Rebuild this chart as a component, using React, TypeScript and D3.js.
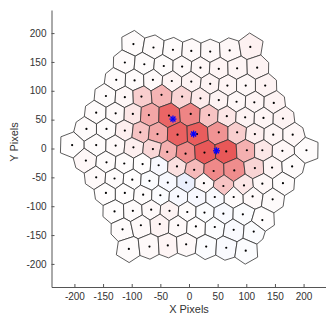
import React, { useRef, useEffect } from "react";
import * as d3 from "d3";

// site centres, one array per hex row (top to bottom)
const rowX = [
  [-97, -62, -28, 4, 37, 71, 107],
  [-112, -78, -44, -12, 20, 52, 84, 119],
  [-127, -95, -63, -30, 4, 37, 67, 99, 133],
  [-145, -112, -83, -48, -12, 20, 52, 83, 114, 148],
  [-162, -128, -98, -70, -35, 3, 35, 66, 98, 130, 164],
  [-179, -144, -112, -85, -55, -20, 14, 52, 84, 115, 147, 181],
  [-204, -162, -128, -97, -63, -38, -6, 27, 65, 101, 128, 163, 205],
  [-180, -144, -113, -81, -53, -21, 9, 43, 79, 115, 145, 180],
  [-162, -130, -99, -69, -37, -5, 26, 60, 96, 128, 164],
  [-145, -112, -80, -50, -19, 14, 45, 78, 111, 146],
  [-130, -98, -66, -34, -3, 27, 60, 94, 128],
  [-116, -84, -51, -19, 12, 45, 78, 113],
  [-105, -69, -37, -5, 30, 65, 99],
];
const rowY = [
  [181, 175, 171, 169, 168, 170, 176],
  [149, 146, 143, 142, 140, 138, 139, 140],
  [119, 118, 119, 117, 116, 112, 109, 109, 109],
  [91, 89, 90, 93, 90, 87, 84, 81, 80, 79],
  [62, 61, 60, 58, 57, 60, 58, 56, 54, 53, 52],
  [34, 34, 31, 28, 25, 24, 25, 28, 28, 25, 24, 24],
  [6, 6, 5, 2, -1, -6, -9, -7, -5, -3, -3, -4, -3],
  [-21, -24, -26, -27, -29, -31, -37, -39, -38, -34, -33, -31],
  [-50, -52, -54, -56, -59, -59, -60, -65, -64, -61, -60],
  [-77, -77, -80, -81, -83, -84, -84, -84, -83, -88],
  [-109, -108, -106, -108, -110, -111, -113, -114, -124],
  [-140, -133, -131, -133, -135, -136, -141, -144],
  [-174, -170, -168, -166, -170, -172, -177],
];
// cell value, negative = blue tint, positive = red
const rowLevel = [
  [0.02, 0.02, 0.02, 0.03, 0.03, 0.04, 0.07],
  [0.02, 0.02, 0.02, 0.03, 0.04, 0.05, 0.05, 0.06],
  [0.02, 0.02, 0.03, 0.05, 0.06, 0.06, 0.05, 0.04, 0.06],
  [0.02, 0.04, 0.25, 0.38, 0.22, 0.1, 0.06, 0.04, 0.05, 0.06],
  [0.02, 0.03, 0.12, 0.45, 0.78, 0.62, 0.3, 0.12, 0.06, 0.05, 0.06],
  [0.02, 0.02, 0.08, 0.3, 0.45, 0.8, 0.82, 0.55, 0.25, 0.08, 0.05, 0.04],
  [0.01, 0.02, 0.03, 0.08, 0.2, 0.4, 0.6, 0.85, 0.85, 0.4, 0.12, 0.04, 0.02],
  [0.04, 0.02, 0.02, 0.01, -0.04, 0.15, 0.35, 0.6, 0.58, 0.22, 0.05, 0.02],
  [0.03, 0.02, 0.01, -0.02, -0.04, -0.1, 0.04, 0.3, 0.12, 0.04, 0.02],
  [0.01, 0.01, 0.02, -0.02, -0.04, -0.04, -0.03, 0.02, 0.03, 0.02],
  [0.01, 0.02, 0.03, 0.06, 0.02, -0.02, -0.03, -0.02, 0.01],
  [0.02, 0.03, 0.06, 0.03, 0.01, -0.02, -0.03, -0.02],
  [0.02, 0.03, 0.05, 0.03, -0.02, -0.03, -0.02],
];
// blue star markers
const starX = [-28, 8, 48];
const starY = [51, 25, -4];

const xTicks = [-200, -150, -100, -50, 0, 50, 100, 150, 200];
const yTicks = [-200, -150, -100, -50, 0, 50, 100, 150, 200];

const App = () => {
  const svgRef = useRef(null);

  useEffect(() => {
    const svg = d3.select(svgRef.current);
    svg.selectAll("*").remove();

    const x = d3.scaleLinear().domain([-240, 240]).range([51.5, 326.5]);
    const y = d3.scaleLinear().domain([-240, 240]).range([287, 10]);

    const sites = [];
    rowX.forEach((xs, r) =>
      xs.forEach((v, i) => sites.push({ x: v, y: rowY[r][i], level: rowLevel[r][i] }))
    );

    // outer ring of sites, clockwise, used to close the edge cells
    const rows = rowX.map((xs, r) => xs.map((v, i) => [v, rowY[r][i]]));
    const ring = [
      ...rows[0],
      ...rows.slice(1, -1).map((r) => r[r.length - 1]),
      ...rows[rows.length - 1].slice().reverse(),
      ...rows.slice(1, -1).reverse().map((r) => r[0]),
    ];
    const ghosts = [];
    ring.forEach((p, i) => {
      const q = ring[(i + 1) % ring.length];
      const mx = (p[0] + q[0]) / 2;
      const my = (p[1] + q[1]) / 2;
      let nx = q[1] - p[1];
      let ny = p[0] - q[0];
      const len = Math.hypot(nx, ny);
      nx /= len;
      ny /= len;
      if (nx * mx + ny * my < 0) {
        nx = -nx;
        ny = -ny;
      }
      ghosts.push([mx + nx * 36, my + ny * 36]);
      if (i % 6 === 0) {
        const l = Math.hypot(p[0], p[1]);
        ghosts.push([p[0] + (p[0] / l) * 40, p[1] + (p[1] / l) * 40]);
      }
    });

    const pts = sites.map((s) => [s.x, s.y]).concat(ghosts);
    const voronoi = d3.Delaunay.from(pts).voronoi([-500, -500, 500, 500]);

    const red = d3.interpolateRgb("#ffffff", "#e43a3a");
    const blue = d3.interpolateRgb("#ffffff", "#3a5ae4");
    const color = (v) => (v >= 0 ? red(v) : blue(-v));

    // cells
    svg
      .append("g")
      .selectAll("path")
      .data(sites)
      .enter()
      .append("path")
      .attr("d", (d, i) => {
        const poly = voronoi.cellPolygon(i);
        return "M" + poly.map((p) => `${x(p[0])},${y(p[1])}`).join("L") + "Z";
      })
      .attr("fill", (d) => color(d.level))
      .attr("stroke", "#333")
      .attr("stroke-width", 0.8)
      .attr("stroke-linejoin", "round");

    // centre dots
    svg
      .append("g")
      .selectAll("circle")
      .data(sites)
      .enter()
      .append("circle")
      .attr("cx", (d) => x(d.x))
      .attr("cy", (d) => y(d.y))
      .attr("r", 1.1)
      .attr("fill", "#000");

    // blue stars
    const star = svg
      .append("g")
      .selectAll("g")
      .data(starX.map((v, i) => [v, starY[i]]))
      .enter()
      .append("g")
      .attr("transform", (d) => `translate(${x(d[0])},${y(d[1])})`)
      .attr("stroke", "#0000ff")
      .attr("stroke-width", 1.3);
    [[-3.5, 0, 3.5, 0], [0, -3.5, 0, 3.5], [-2.5, -2.5, 2.5, 2.5], [-2.5, 2.5, 2.5, -2.5]].forEach((l) => {
      star
        .append("line")
        .attr("x1", l[0])
        .attr("y1", l[1])
        .attr("x2", l[2])
        .attr("y2", l[3]);
    });

    // axes
    const fmt = (d) => String(d);
    const xAxis = svg
      .append("g")
      .attr("transform", `translate(0,${y(-240)})`)
      .call(
        d3.axisBottom(x).tickValues(xTicks).tickFormat(fmt).tickSizeInner(-3).tickSizeOuter(0).tickPadding(6)
      );
    const yAxis = svg
      .append("g")
      .attr("transform", `translate(${x(-240)},0)`)
      .call(
        d3.axisLeft(y).tickValues(yTicks).tickFormat(fmt).tickSizeInner(-3).tickSizeOuter(0).tickPadding(5)
      );
    [xAxis, yAxis].forEach((g) => {
      g.attr("font-family", "'Liberation Sans', Arial, sans-serif").attr("font-size", 10);
      g.select(".domain").attr("stroke", "#555");
      g.selectAll(".tick line").attr("stroke", "#555");
      g.selectAll(".tick text").attr("fill", "#333");
    });

    svg
      .append("text")
      .attr("x", x(0))
      .attr("y", 313)
      .attr("text-anchor", "middle")
      .attr("font-family", "'Liberation Sans', Arial, sans-serif")
      .attr("font-size", 11)
      .attr("fill", "#333")
      .text("X Pixels");

    svg
      .append("text")
      .attr("transform", "translate(18,142) rotate(-90)")
      .attr("text-anchor", "middle")
      .attr("font-family", "'Liberation Sans', Arial, sans-serif")
      .attr("font-size", 11)
      .attr("fill", "#333")
      .text("Y Pixels");
  }, []);

  return (
    <svg
      ref={svgRef}
      width={326}
      height={320}
      style={{ position: "absolute", left: 0, top: 0, background: "#fff" }}
    ></svg>
  );
};

export default App;
